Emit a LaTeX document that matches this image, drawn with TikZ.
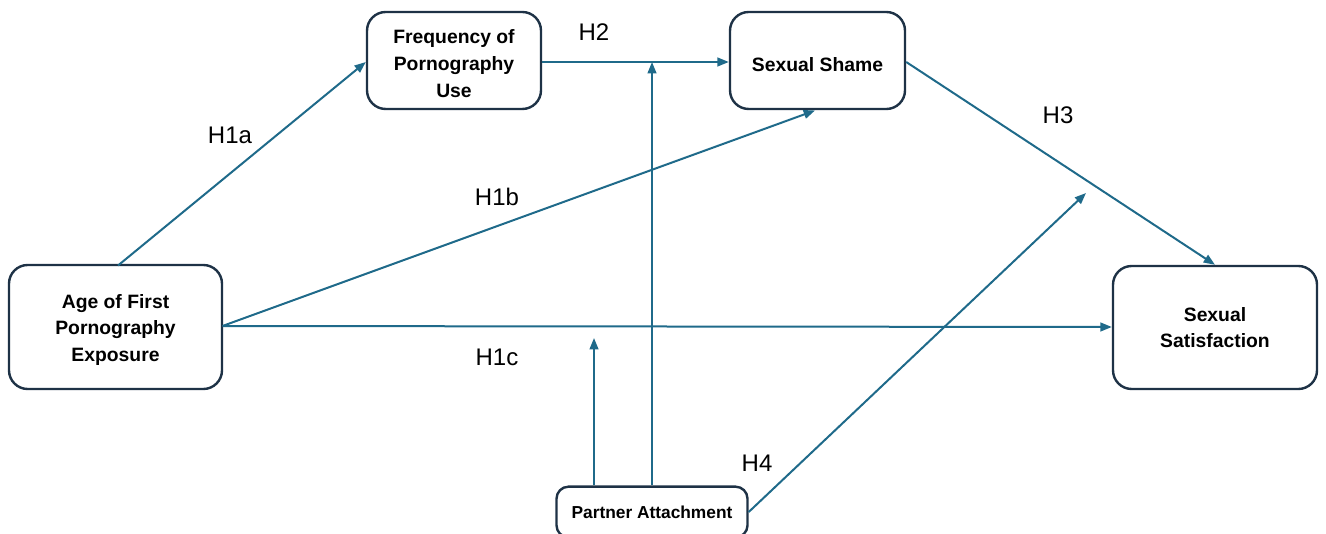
\documentclass[tikz,border=0pt]{standalone}
\usepackage{fontspec}
\setmainfont{Liberation Sans}
\usetikzlibrary{arrows.meta,calc}
\definecolor{linec}{HTML}{1F6A8A}
\definecolor{boxc}{HTML}{1E3246}
\tikzset{
  bx/.style={draw=boxc, line width=1.8pt, rounded corners=14pt, fill=white, inner sep=0pt},
  txt/.style={align=center, font=\bfseries\fontsize{14.5}{20}\selectfont, inner sep=0pt, text=black},
  arr/.style={draw=linec, line width=1.5pt, -{Triangle[length=8.5pt,width=6.5pt]}},
  lab/.style={font=\fontsize{18}{20}\selectfont, inner sep=0pt}
}
\begin{document}
\begin{tikzpicture}[x=0.75pt,y=-0.75pt]
\useasboundingbox (0,0) rectangle (1326,534);
\node[bx, minimum width=159.75pt, minimum height=93pt] (age) at (115.5,327) {};
\node[bx, minimum width=130.5pt, minimum height=72.75pt] (freq) at (454,60.5) {};
\node[bx, minimum width=131.25pt, minimum height=72.75pt] (shame) at (817.5,60.5) {};
\node[bx, minimum width=153pt, minimum height=92.25pt] (sat) at (1215,327.5) {};
\node[bx, rounded corners=9pt, minimum width=143.25pt, minimum height=38pt] (pa) at (652,512) {};
\node[txt] (agetxt) at ($(age.center)+(0,3)$) {Age of First\\Pornography\\Exposure};
\node[txt] (freqtxt) at ($(freq.center)+(0,3)$) {Frequency of\\Pornography\\Use};
\node[txt] (shametxt) at ($(shame.center)+(0,4)$) {Sexual Shame};
\node[txt] (sattxt) at ($(sat.center)+(0,0)$) {Sexual\\Satisfaction};
\node[txt, font=\bfseries\fontsize{13}{15}\selectfont] (patxt) at ($(pa.center)+(0,0)$) {Partner Attachment};
\coordinate (m1) at (594,338);
\coordinate (m2) at (652,62);
\coordinate (m3) at (1086,193);
\coordinate (agetop) at (118,265.5);
\coordinate (ager) at (222.5,326);
\draw[arr] (agetop) -- (freq.west |- 0,62);
\draw[arr] (ager) -- (815,110.5);
\draw[arr] (ager) -- (sat.west |- 0,327);
\draw[arr] (freq.east |- 0,62) -- (shame.west |- 0,62);
\draw[arr] (shame.east |- 0,62) -- (sat.north);
\draw[arr] (pa.north -| m1) -- (m1);
\draw[arr] (pa.north -| m2) -- (m2);
\draw[arr] (pa.east |- 0,512) -- (m3);
\node[lab] (h1a) at (230,135) {H1a};
\node[lab] (h1b) at (497,197) {H1b};
\node[lab] (h1c) at (497,357) {H1c};
\node[lab] (h2) at (594,32) {H2};
\node[lab] (h3) at (1058,115) {H3};
\node[lab] (h4) at (757,463) {H4};
\end{tikzpicture}
\end{document}
